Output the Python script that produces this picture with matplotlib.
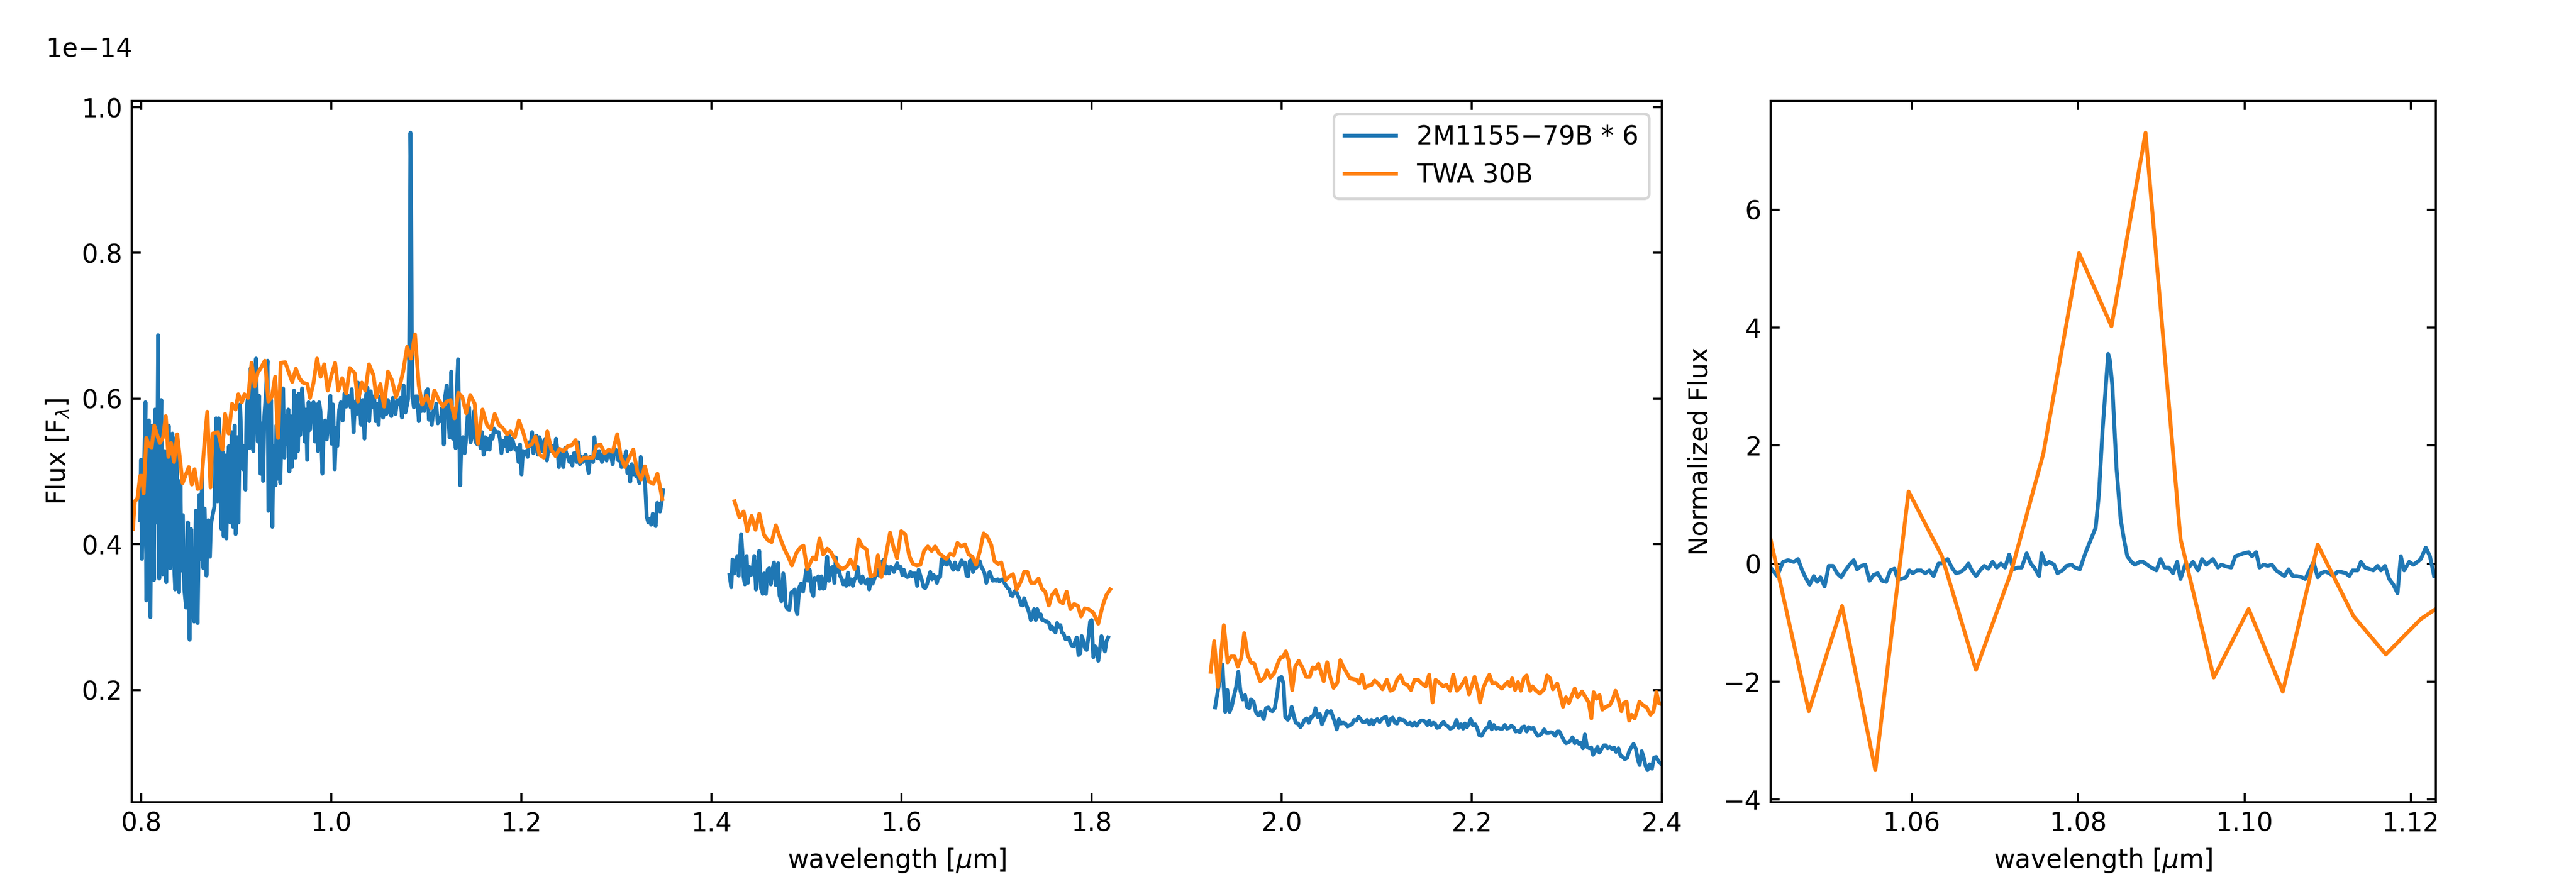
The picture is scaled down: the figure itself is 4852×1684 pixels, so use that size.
import numpy as np
import matplotlib
matplotlib.use("Agg")
import matplotlib.pyplot as plt

# ---------------- main panel data (flux in units of 1e-14) ----------------
blue_w1 = [0.7987, 0.7996, 0.8005, 0.8024, 0.8043, 0.8052, 0.8065, 0.8080, 0.8095, 0.8108,
           0.8117, 0.8132, 0.8145, 0.8164, 0.8177, 0.8188, 0.8201, 0.8210, 0.8225, 0.8238,
           0.8247, 0.8262, 0.8275, 0.8288, 0.8303, 0.8318, 0.8326, 0.8337, 0.8356, 0.8369,
           0.8382, 0.8397, 0.8411, 0.8424, 0.8437, 0.8452, 0.8471, 0.8490, 0.8508, 0.8523,
           0.8536, 0.8555, 0.8573, 0.8592, 0.8611, 0.8624, 0.8639, 0.8653, 0.8666, 0.8685,
           0.8704, 0.8722, 0.8732, 0.8750, 0.8769, 0.8787, 0.8802, 0.8815, 0.8828, 0.8843,
           0.8853, 0.8866, 0.8881, 0.8895, 0.8909, 0.8922, 0.8936, 0.8951, 0.8964, 0.8983,
           0.8992, 0.9011, 0.9022, 0.9039, 0.9058, 0.9070, 0.9085, 0.9095, 0.9108, 0.9123,
           0.9138, 0.9151, 0.9164, 0.9179, 0.9194, 0.9207, 0.9225, 0.9238, 0.9253, 0.9268,
           0.9281, 0.9294, 0.9309, 0.9328, 0.9337, 0.9352, 0.9365, 0.9378, 0.9393, 0.9411,
           0.9421, 0.9436, 0.9449, 0.9462, 0.9477, 0.9492, 0.9505, 0.9518, 0.9533, 0.9547,
           0.9557, 0.9570, 0.9585, 0.9598, 0.9607, 0.9622, 0.9635, 0.9648, 0.9659, 0.9672,
           0.9691, 0.9709, 0.9719, 0.9734, 0.9745, 0.9760, 0.9774, 0.9793, 0.9812, 0.9827,
           0.9840, 0.9858, 0.9871, 0.9886, 0.9905, 0.9920, 0.9933, 0.9951, 0.9970, 0.9989,
           1.0002, 1.0017, 1.0035, 1.0050, 1.0063, 1.0082, 1.0100, 1.0119, 1.0138, 1.0156,
           1.0175, 1.0193,
           1.0203, 1.0214, 1.0233, 1.0250, 1.0266, 1.0280, 1.0297, 1.0313, 1.0332, 1.0348,
           1.0363, 1.0379, 1.0398, 1.0414, 1.0431, 1.0450, 1.0466, 1.0480, 1.0497, 1.0513,
           1.0527, 1.0544, 1.0562, 1.0579, 1.0595, 1.0614, 1.0631, 1.0645, 1.0661, 1.0675,
           1.0692, 1.0708, 1.0727, 1.0743, 1.0760, 1.0779, 1.0795,
           1.0808, 1.0818, 1.0826, 1.0832, 1.0838, 1.0846,
           1.0854, 1.0868, 1.0885, 1.0903, 1.0920, 1.0932, 1.0948, 1.0962, 1.0979, 1.0995,
           1.1014, 1.1026, 1.1042, 1.1056, 1.1073, 1.1089, 1.1103, 1.1120, 1.1136, 1.1150,
           1.1167, 1.1183, 1.1197, 1.1214, 1.1230, 1.1244, 1.1261, 1.1277, 1.1291, 1.1308,
           1.1320, 1.1334, 1.1343, 1.1355, 1.1367, 1.1385, 1.1402, 1.1418, 1.1432, 1.1449,
           1.1465, 1.1484, 1.1503, 1.1520, 1.1538, 1.1555, 1.1571, 1.1585, 1.1602, 1.1618,
           1.1632, 1.1649, 1.1665, 1.1679, 1.1696, 1.1712, 1.1729, 1.1743, 1.1759, 1.1773,
           1.1790, 1.1806, 1.1823, 1.1839, 1.1853, 1.1870, 1.1886, 1.1903, 1.1919, 1.1936,
           1.1952, 1.1969, 1.1985, 1.2001, 1.2016, 1.2032, 1.2049, 1.2065, 1.2079, 1.2096,
           1.2112, 1.2126, 1.2143, 1.2159, 1.2173, 1.2190, 1.2206, 1.2220, 1.2237, 1.2253,
           1.2267, 1.2284, 1.2300, 1.2314, 1.2331, 1.2347, 1.2364, 1.2378, 1.2394, 1.2411,
           1.2425, 1.2441, 1.2458, 1.2472, 1.2488, 1.2505, 1.2519, 1.2535, 1.2552, 1.2566,
           1.2582, 1.2599, 1.2615, 1.2629, 1.2646, 1.2660, 1.2676, 1.2690, 1.2707, 1.2723,
           1.2737, 1.2754, 1.2768, 1.2785, 1.2801, 1.2818, 1.2832, 1.2848, 1.2865, 1.2879,
           1.2895, 1.2912, 1.2926, 1.2942, 1.2959, 1.2973, 1.2989, 1.3006, 1.3020, 1.3036,
           1.3053, 1.3067, 1.3083, 1.3100, 1.3114, 1.3130, 1.3144, 1.3161, 1.3177, 1.3194,
           1.3208, 1.3224, 1.3241, 1.3255, 1.3271, 1.3288, 1.3302, 1.3318, 1.3335, 1.3349,
           1.3365, 1.3382, 1.3396, 1.3412, 1.3429, 1.3443, 1.3459, 1.3476, 1.3490]
blue_f1 = [0.433, 0.516, 0.380, 0.471, 0.595, 0.323, 0.503, 0.570, 0.300, 0.484,
           0.563, 0.351, 0.585, 0.430, 0.687, 0.353, 0.535, 0.598, 0.359, 0.503,
           0.528, 0.348, 0.456, 0.563, 0.367, 0.471, 0.552, 0.392, 0.338, 0.547,
           0.440, 0.334, 0.487, 0.364, 0.440, 0.338, 0.313, 0.430, 0.269, 0.421,
           0.319, 0.294, 0.446, 0.292, 0.468, 0.380, 0.494, 0.367, 0.449, 0.357,
           0.433, 0.383, 0.427, 0.440, 0.452, 0.573, 0.459, 0.573, 0.503, 0.421,
           0.528, 0.411, 0.522, 0.408, 0.516, 0.535, 0.430, 0.554, 0.424, 0.563,
           0.414, 0.547, 0.430, 0.592, 0.525, 0.503, 0.535, 0.475, 0.585, 0.604,
           0.532, 0.642, 0.585, 0.528, 0.630, 0.655, 0.541, 0.604, 0.497, 0.566,
           0.487, 0.576, 0.604, 0.652, 0.446, 0.516, 0.598, 0.424, 0.535, 0.481,
           0.563, 0.490, 0.573, 0.484, 0.560, 0.614, 0.519, 0.576, 0.538, 0.585,
           0.500, 0.576, 0.506, 0.538, 0.611, 0.519, 0.604, 0.528, 0.607, 0.550,
           0.614, 0.576, 0.541, 0.585, 0.516, 0.595, 0.557, 0.592, 0.595, 0.541,
           0.592, 0.528, 0.595, 0.582, 0.497, 0.560, 0.570, 0.544, 0.566, 0.604,
           0.538, 0.592, 0.503, 0.560, 0.535, 0.585, 0.595, 0.570, 0.607, 0.589,
           0.604, 0.592,
           0.588, 0.613, 0.554, 0.596, 0.579, 0.622, 0.591, 0.564, 0.598, 0.545,
           0.603, 0.615, 0.569, 0.610, 0.588, 0.603, 0.569, 0.593, 0.564, 0.603,
           0.583, 0.574, 0.593, 0.579, 0.598, 0.583, 0.576, 0.601, 0.583, 0.579,
           0.598, 0.593, 0.601, 0.574, 0.618, 0.581, 0.591,
           0.600, 0.650, 0.780, 0.965, 0.900, 0.700,
           0.603, 0.588, 0.603, 0.603, 0.569, 0.591, 0.583, 0.593, 0.583, 0.610,
           0.613, 0.571, 0.579, 0.564, 0.583, 0.581, 0.593, 0.566, 0.574, 0.569,
           0.588, 0.537, 0.603, 0.618, 0.574, 0.547, 0.637, 0.545, 0.574, 0.532,
           0.613, 0.654, 0.569, 0.481, 0.537, 0.547, 0.525, 0.545, 0.574, 0.588,
           0.540, 0.549, 0.583, 0.540, 0.537, 0.545, 0.532, 0.554, 0.523, 0.547,
           0.530, 0.545, 0.530, 0.549, 0.545, 0.559, 0.554, 0.554, 0.554, 0.545,
           0.525, 0.542, 0.535, 0.547, 0.528, 0.549, 0.530, 0.545, 0.537, 0.530,
           0.532, 0.513, 0.537, 0.496, 0.528, 0.523, 0.528, 0.520, 0.540, 0.535,
           0.554, 0.525, 0.545, 0.549, 0.523, 0.547, 0.540, 0.528, 0.540, 0.545,
           0.515, 0.530, 0.535, 0.528, 0.535, 0.528, 0.545, 0.530, 0.506, 0.525,
           0.520, 0.506, 0.532, 0.525, 0.520, 0.513, 0.520, 0.508, 0.525, 0.525,
           0.513, 0.540, 0.510, 0.520, 0.513, 0.520, 0.523, 0.510, 0.498, 0.520,
           0.515, 0.513, 0.547, 0.520, 0.518, 0.528, 0.520, 0.513, 0.525, 0.523,
           0.515, 0.528, 0.520, 0.523, 0.510, 0.523, 0.530, 0.528, 0.515, 0.520,
           0.506, 0.520, 0.513, 0.528, 0.498, 0.506, 0.486, 0.510, 0.496, 0.508,
           0.493, 0.498, 0.484, 0.520, 0.493, 0.496, 0.481, 0.438, 0.430, 0.435,
           0.427, 0.442, 0.435, 0.425, 0.457, 0.455, 0.445, 0.459, 0.474]

blue_w2 = [1.4190, 1.4208, 1.4221, 1.4240, 1.4255, 1.4273, 1.4286, 1.4299, 1.4312, 1.4325,
           1.4338, 1.4351, 1.4370, 1.4383, 1.4398, 1.4416, 1.4435, 1.4450, 1.4468, 1.4487,
           1.4502, 1.4520, 1.4539, 1.4554, 1.4572, 1.4591, 1.4606, 1.4624, 1.4643, 1.4658,
           1.4676, 1.4702, 1.4715, 1.4736, 1.4755, 1.4767, 1.4780, 1.4799, 1.4819, 1.4840,
           1.4858, 1.4877, 1.4890, 1.4903, 1.4924, 1.4942, 1.4963, 1.4981, 1.4996, 1.5015,
           1.5033, 1.5054, 1.5072, 1.5085, 1.5106, 1.5124, 1.5139, 1.5158, 1.5176, 1.5191,
           1.5204, 1.5217, 1.5236, 1.5256, 1.5275, 1.5293, 1.5308, 1.5321, 1.5340, 1.5353,
           1.5371, 1.5386, 1.5402, 1.5418, 1.5436, 1.5451, 1.5470, 1.5488, 1.5504, 1.5522,
           1.5537, 1.5556, 1.5574, 1.5589, 1.5605, 1.5626, 1.5644, 1.5660, 1.5678, 1.5696,
           1.5712, 1.5730, 1.5748, 1.5764, 1.5782, 1.5800, 1.5816, 1.5834, 1.5849, 1.5868,
           1.5886, 1.5904, 1.5920, 1.5938, 1.5954, 1.5972, 1.5990, 1.6008, 1.6024, 1.6042,
           1.6060, 1.6076, 1.6094, 1.6112, 1.6128, 1.6146, 1.6164, 1.6180, 1.6198, 1.6216,
           1.6232, 1.6250, 1.6268, 1.6286, 1.6302, 1.6320, 1.6336, 1.6354, 1.6372, 1.6388,
           1.6406, 1.6422, 1.6440, 1.6458, 1.6476, 1.6492, 1.6510, 1.6528, 1.6544, 1.6562,
           1.6580, 1.6596, 1.6614, 1.6632, 1.6648, 1.6666, 1.6684, 1.6700, 1.6718, 1.6736,
           1.6752, 1.6770, 1.6788, 1.6804, 1.6822, 1.6840, 1.6858, 1.6874, 1.6892, 1.6908,
           1.6926, 1.6944, 1.6960, 1.6978, 1.6996, 1.7012, 1.7030, 1.7048, 1.7064, 1.7082,
           1.7100, 1.7116, 1.7134, 1.7152, 1.7168, 1.7186, 1.7204, 1.7220, 1.7238, 1.7256,
           1.7272, 1.7290, 1.7308, 1.7324, 1.7342, 1.7360, 1.7376, 1.7394, 1.7412, 1.7428,
           1.7446, 1.7464, 1.7480, 1.7498, 1.7516, 1.7532, 1.7550, 1.7568, 1.7584, 1.7602,
           1.7620, 1.7636, 1.7654, 1.7672, 1.7688, 1.7706, 1.7724, 1.7740, 1.7758, 1.7776,
           1.7792, 1.7810, 1.7828, 1.7844, 1.7862, 1.7880, 1.7896, 1.7914, 1.7932, 1.7948,
           1.7966, 1.7984, 1.8000, 1.8018, 1.8036, 1.8052, 1.8070, 1.8088, 1.8104, 1.8122,
           1.8140, 1.8156, 1.8174]
blue_f2 = [0.358, 0.341, 0.379, 0.360, 0.377, 0.384, 0.357, 0.386, 0.414, 0.389,
           0.355, 0.345, 0.384, 0.347, 0.369, 0.358, 0.369, 0.384, 0.338, 0.369,
           0.391, 0.340, 0.332, 0.360, 0.332, 0.365, 0.367, 0.345, 0.367, 0.375,
           0.344, 0.374, 0.330, 0.322, 0.360, 0.350, 0.316, 0.311, 0.310, 0.334,
           0.335, 0.338, 0.310, 0.304, 0.341, 0.346, 0.335, 0.350, 0.365, 0.350,
           0.365, 0.335, 0.329, 0.354, 0.352, 0.356, 0.339, 0.356, 0.339, 0.340,
           0.358, 0.383, 0.350, 0.367, 0.369, 0.347, 0.382, 0.362, 0.367, 0.357,
           0.352, 0.345, 0.350, 0.343, 0.361, 0.345, 0.352, 0.343, 0.352, 0.355,
           0.369, 0.352, 0.347, 0.356, 0.350, 0.346, 0.352, 0.338, 0.352, 0.346,
           0.352, 0.358, 0.365, 0.357, 0.365, 0.377, 0.379, 0.360, 0.369, 0.360,
           0.369, 0.367, 0.362, 0.369, 0.374, 0.367, 0.369, 0.358, 0.365, 0.357,
           0.355, 0.356, 0.362, 0.356, 0.360, 0.360, 0.343, 0.365, 0.357, 0.350,
           0.341, 0.340, 0.345, 0.355, 0.362, 0.352, 0.358, 0.355, 0.347, 0.356,
           0.355, 0.380, 0.373, 0.377, 0.372, 0.379, 0.374, 0.369, 0.365, 0.375,
           0.367, 0.365, 0.372, 0.378, 0.372, 0.375, 0.357, 0.356, 0.377, 0.379,
           0.362, 0.369, 0.368, 0.374, 0.377, 0.369, 0.365, 0.360, 0.347, 0.354,
           0.362, 0.356, 0.350, 0.351, 0.350, 0.352, 0.349, 0.351, 0.352, 0.347,
           0.343, 0.340, 0.338, 0.330, 0.329, 0.335, 0.337, 0.330, 0.326, 0.317,
           0.316, 0.326, 0.318, 0.313, 0.306, 0.296, 0.301, 0.311, 0.296, 0.311,
           0.301, 0.304, 0.296, 0.296, 0.294, 0.294, 0.292, 0.284, 0.287, 0.282,
           0.279, 0.292, 0.287, 0.289, 0.279, 0.277, 0.270, 0.270, 0.272, 0.265,
           0.261, 0.260, 0.267, 0.272, 0.248, 0.250, 0.274, 0.267, 0.257, 0.255,
           0.272, 0.294, 0.296, 0.245, 0.260, 0.257, 0.240, 0.257, 0.274, 0.262,
           0.253, 0.267, 0.272]

blue_w3 = [1.9299, 1.9376, 1.9406, 1.9428, 1.9452, 1.9474, 1.9498, 1.9520, 1.9544, 1.9566,
           1.9590, 1.9615, 1.9636, 1.9658, 1.9676, 1.9704, 1.9728, 1.9753, 1.9780, 1.9811,
           1.9835, 1.9860, 1.9881, 1.9903, 1.9927, 1.9952, 1.9973, 1.9998, 2.0019, 2.0038,
           2.0065, 2.0087, 2.0105, 2.0127, 2.0148, 2.0173, 2.0197, 2.0219, 2.0240, 2.0265,
           2.0286, 2.0311, 2.0332, 2.0356, 2.0378, 2.0402, 2.0424, 2.0448, 2.0479, 2.0500,
           2.0519, 2.0540, 2.0562, 2.0580, 2.0602, 2.0623, 2.0648, 2.0669, 2.0694, 2.0718,
           2.0740, 2.0761, 2.0785, 2.0810, 2.0831, 2.0853, 2.0877, 2.0899, 2.0923, 2.0945,
           2.0963, 2.0985, 2.1006, 2.1031, 2.1055, 2.1077, 2.1098, 2.1123, 2.1147, 2.1169,
           2.1193, 2.1214, 2.1239, 2.1260, 2.1282, 2.1307, 2.1328, 2.1352, 2.1374, 2.1398,
           2.1420, 2.1441, 2.1466, 2.1490, 2.1512, 2.1533, 2.1552, 2.1573, 2.1595, 2.1613,
           2.1635, 2.1659, 2.1684, 2.1705, 2.1726, 2.1751, 2.1772, 2.1797, 2.1818, 2.1840,
           2.1864, 2.1889, 2.1910, 2.1929, 2.1950, 2.1971, 2.1990, 2.2011, 2.2036, 2.2057,
           2.2079, 2.2103, 2.2125, 2.2149, 2.2171, 2.2189, 2.2210, 2.2232, 2.2256, 2.2278,
           2.2299, 2.2324, 2.2348, 2.2370, 2.2394, 2.2416, 2.2440, 2.2462, 2.2486, 2.2508,
           2.2532, 2.2554, 2.2578, 2.2600, 2.2624, 2.2649, 2.2670, 2.2695, 2.2716, 2.2741,
           2.2762, 2.2787, 2.2808, 2.2833, 2.2854, 2.2879, 2.2900, 2.2922, 2.2946, 2.2968,
           2.2992, 2.3014, 2.3038, 2.3060, 2.3084, 2.3106, 2.3130, 2.3151, 2.3170, 2.3191,
           2.3213, 2.3237, 2.3259, 2.3277, 2.3299, 2.3323, 2.3344, 2.3366, 2.3390, 2.3412,
           2.3430, 2.3452, 2.3476, 2.3498, 2.3519, 2.3544, 2.3565, 2.3590, 2.3611, 2.3636,
           2.3657, 2.3682, 2.3703, 2.3728, 2.3749, 2.3767, 2.3789, 2.3810, 2.3829, 2.3850,
           2.3872, 2.3896, 2.3918, 2.3942, 2.3964, 2.3988]
blue_f3 = [0.176, 0.235, 0.170, 0.200, 0.170, 0.177, 0.192, 0.204, 0.225, 0.199,
           0.187, 0.193, 0.177, 0.175, 0.187, 0.184, 0.170, 0.165, 0.170, 0.160,
           0.175, 0.176, 0.172, 0.171, 0.175, 0.194, 0.216, 0.218, 0.209, 0.163,
           0.159, 0.165, 0.177, 0.165, 0.155, 0.154, 0.149, 0.153, 0.159, 0.161,
           0.155, 0.163, 0.164, 0.175, 0.163, 0.167, 0.153, 0.160, 0.171, 0.169,
           0.171, 0.163, 0.155, 0.146, 0.160, 0.154, 0.155, 0.154, 0.150, 0.152,
           0.153, 0.159, 0.158, 0.163, 0.160, 0.156, 0.156, 0.159, 0.153, 0.159,
           0.153, 0.158, 0.160, 0.156, 0.160, 0.162, 0.163, 0.152, 0.160, 0.162,
           0.155, 0.154, 0.161, 0.159, 0.159, 0.155, 0.153, 0.155, 0.151, 0.155,
           0.151, 0.155, 0.158, 0.158, 0.156, 0.152, 0.158, 0.152, 0.155, 0.154,
           0.148, 0.149, 0.154, 0.156, 0.152, 0.150, 0.147, 0.148, 0.151, 0.159,
           0.148, 0.153, 0.147, 0.154, 0.149, 0.154, 0.160, 0.152, 0.153, 0.148,
           0.138, 0.137, 0.142, 0.147, 0.149, 0.156, 0.146, 0.152, 0.147, 0.148,
           0.147, 0.147, 0.152, 0.147, 0.148, 0.151, 0.149, 0.143, 0.144, 0.142,
           0.149, 0.150, 0.143, 0.149, 0.147, 0.148, 0.142, 0.137, 0.138, 0.141,
           0.146, 0.141, 0.141, 0.142, 0.141, 0.137, 0.143, 0.143, 0.137, 0.131,
           0.127, 0.128, 0.130, 0.135, 0.127, 0.130, 0.126, 0.128, 0.120, 0.139,
           0.122, 0.120, 0.121, 0.111, 0.116, 0.122, 0.114, 0.119, 0.124, 0.124,
           0.120, 0.122, 0.119, 0.121, 0.115, 0.120, 0.110, 0.108, 0.105, 0.107,
           0.116, 0.122, 0.126, 0.119, 0.104, 0.097, 0.116, 0.107, 0.096, 0.090,
           0.098, 0.092, 0.107, 0.108, 0.102, 0.099]

orange_w1 = [0.7912, 0.7931, 0.7959, 0.7987, 0.8005, 0.8024, 0.8052, 0.8080, 0.8108, 0.8136,
             0.8164, 0.8195, 0.8229, 0.8257, 0.8285, 0.8313, 0.8344, 0.8378, 0.8434, 0.8499,
             0.8531, 0.8560, 0.8592, 0.8629, 0.8661, 0.8694, 0.8728, 0.8750, 0.8806, 0.8853,
             0.8881, 0.8918, 0.8955, 0.8992, 0.9020, 0.9058, 0.9085, 0.9123, 0.9160, 0.9194,
             0.9225, 0.9253, 0.9300, 0.9337, 0.9374, 0.9408, 0.9439, 0.9467, 0.9514, 0.9551,
             0.9588, 0.9626, 0.9663, 0.9700, 0.9747, 0.9775, 0.9812, 0.9849, 0.9886, 0.9924,
             0.9961, 0.9998, 1.0039, 1.0073, 1.0114, 1.0156, 1.0193,
             1.0245, 1.0280, 1.0320, 1.0356, 1.0396, 1.0443, 1.0473, 1.0515, 1.0555, 1.0595,
             1.0638, 1.0680, 1.0720, 1.0755, 1.0797, 1.0837, 1.0880, 1.0920, 1.0955, 1.1002,
             1.1049, 1.1084, 1.1131, 1.1174, 1.1214, 1.1254, 1.1296, 1.1336, 1.1378, 1.1418,
             1.1461, 1.1508, 1.1543, 1.1590, 1.1637, 1.1677, 1.1719, 1.1762, 1.1802, 1.1849,
             1.1884, 1.1931, 1.1973, 1.2020, 1.2060, 1.2107, 1.2147, 1.2190, 1.2237, 1.2272,
             1.2314, 1.2359, 1.2401, 1.2443, 1.2490, 1.2530, 1.2570, 1.2617, 1.2660, 1.2707,
             1.2754, 1.2789, 1.2831, 1.2876, 1.2918, 1.2960, 1.3008, 1.3047, 1.3087, 1.3134,
             1.3177, 1.3219, 1.3259, 1.3299, 1.3342, 1.3389, 1.3431, 1.3483]
orange_f1 = [0.421, 0.459, 0.463, 0.494, 0.494, 0.470, 0.546, 0.535, 0.533, 0.563,
             0.551, 0.539, 0.547, 0.576, 0.520, 0.539, 0.513, 0.551, 0.484, 0.506,
             0.482, 0.503, 0.476, 0.478, 0.535, 0.582, 0.478, 0.552, 0.554, 0.530,
             0.579, 0.552, 0.593, 0.585, 0.606, 0.595, 0.606, 0.601, 0.649, 0.617,
             0.636, 0.641, 0.652, 0.596, 0.603, 0.630, 0.546, 0.649, 0.650, 0.636,
             0.623, 0.641, 0.628, 0.622, 0.620, 0.601, 0.622, 0.655, 0.630, 0.647,
             0.611, 0.631, 0.649, 0.611, 0.628, 0.607, 0.642,
             0.635, 0.596, 0.622, 0.611, 0.647, 0.632, 0.602, 0.620, 0.589, 0.637,
             0.625, 0.602, 0.618, 0.637, 0.671, 0.655, 0.688, 0.618, 0.592, 0.604,
             0.587, 0.611, 0.598, 0.589, 0.596, 0.598, 0.573, 0.608, 0.602, 0.580,
             0.605, 0.593, 0.538, 0.585, 0.564, 0.558, 0.579, 0.564, 0.560, 0.551,
             0.555, 0.547, 0.570, 0.553, 0.534, 0.537, 0.548, 0.523, 0.519, 0.555,
             0.530, 0.521, 0.531, 0.528, 0.535, 0.536, 0.543, 0.513, 0.519, 0.519,
             0.519, 0.535, 0.537, 0.525, 0.530, 0.527, 0.551, 0.520, 0.506, 0.519,
             0.530, 0.500, 0.489, 0.507, 0.486, 0.483, 0.497, 0.462]

orange_w2 = [1.4242, 1.4294, 1.4338, 1.4377, 1.4422, 1.4463, 1.4503, 1.4552, 1.4591, 1.4632,
             1.4677, 1.4724, 1.4768, 1.4807, 1.4846, 1.4893, 1.4937, 1.4968, 1.5007, 1.5067,
             1.5098, 1.5137, 1.5176, 1.5218, 1.5257, 1.5293, 1.5335, 1.5381, 1.5426, 1.5462,
             1.5506, 1.5548, 1.5587, 1.5631, 1.5673, 1.5717, 1.5751, 1.5788, 1.5834, 1.5879,
             1.5913, 1.5952, 1.5996, 1.6037, 1.6081, 1.6120, 1.6160, 1.6198, 1.6237, 1.6276,
             1.6316, 1.6354, 1.6393, 1.6432, 1.6471, 1.6510, 1.6549, 1.6588, 1.6628, 1.6667,
             1.6706, 1.6745, 1.6784, 1.6823, 1.6864, 1.6900, 1.6944, 1.6978, 1.7017, 1.7050,
             1.7095, 1.7134, 1.7173, 1.7212, 1.7259, 1.7290, 1.7324, 1.7363, 1.7402, 1.7441,
             1.7478, 1.7511, 1.7550, 1.7581, 1.7623, 1.7662, 1.7698, 1.7737, 1.7777, 1.7815,
             1.7854, 1.7889, 1.7928, 1.7967, 1.8018, 1.8070, 1.8117, 1.8154, 1.8195]
orange_f2 = [0.459, 0.437, 0.445, 0.418, 0.439, 0.420, 0.442, 0.413, 0.406, 0.403,
             0.426, 0.408, 0.393, 0.383, 0.371, 0.388, 0.396, 0.398, 0.366, 0.382,
             0.379, 0.408, 0.386, 0.394, 0.389, 0.380, 0.370, 0.366, 0.370, 0.379,
             0.366, 0.407, 0.397, 0.393, 0.356, 0.358, 0.385, 0.355, 0.384, 0.416,
             0.397, 0.381, 0.418, 0.414, 0.384, 0.373, 0.371, 0.372, 0.391, 0.397,
             0.391, 0.397, 0.388, 0.384, 0.380, 0.387, 0.385, 0.402, 0.397, 0.400,
             0.386, 0.383, 0.372, 0.390, 0.415, 0.411, 0.399, 0.377, 0.373, 0.375,
             0.351, 0.356, 0.359, 0.338, 0.350, 0.362, 0.362, 0.347, 0.347, 0.353,
             0.339, 0.335, 0.316, 0.330, 0.337, 0.322, 0.319, 0.335, 0.311, 0.318,
             0.316, 0.301, 0.312, 0.311, 0.306, 0.291, 0.316, 0.330, 0.338]

orange_w3 = [1.9253, 1.9290, 1.9330, 1.9391, 1.9431, 1.9468, 1.9504, 1.9538, 1.9575, 1.9606,
             1.9642, 1.9676, 1.9713, 1.9743, 1.9774, 1.9820, 1.9845, 1.9881, 1.9921, 1.9958,
             1.9989, 2.0013, 2.0044, 2.0074, 2.0111, 2.0142, 2.0179, 2.0218, 2.0258, 2.0295,
             2.0326, 2.0356, 2.0387, 2.0442, 2.0479, 2.0510, 2.0546, 2.0586, 2.0617, 2.0648,
             2.0687, 2.0718, 2.0755, 2.0785, 2.0816, 2.0847, 2.0877, 2.0914, 2.0945, 2.0978,
             2.1015, 2.1061, 2.1107, 2.1144, 2.1178, 2.1214, 2.1251, 2.1285, 2.1322, 2.1361,
             2.1398, 2.1435, 2.1475, 2.1515, 2.1552, 2.1588, 2.1619, 2.1659, 2.1699, 2.1736,
             2.1772, 2.1806, 2.1843, 2.1874, 2.1904, 2.1935, 2.1972, 2.2002, 2.2030, 2.2067,
             2.2088, 2.2125, 2.2159, 2.2186, 2.2217, 2.2250, 2.2287, 2.2318, 2.2349, 2.2379,
             2.2404, 2.2425, 2.2456, 2.2487, 2.2517, 2.2548, 2.2578, 2.2615, 2.2640, 2.2670,
             2.2716, 2.2762, 2.2793, 2.2824, 2.2854, 2.2900, 2.2931, 2.2961, 2.2992, 2.3023,
             2.3053, 2.3084, 2.3115, 2.3161, 2.3198, 2.3231, 2.3259, 2.3283, 2.3314, 2.3345,
             2.3375, 2.3412, 2.3452, 2.3483, 2.3513, 2.3544, 2.3575, 2.3599, 2.3630, 2.3657,
             2.3682, 2.3713, 2.3734, 2.3765, 2.3805, 2.3842, 2.3882, 2.3913, 2.3944, 2.3968,
             2.3990]
orange_f3 = [0.225, 0.267, 0.204, 0.289, 0.238, 0.246, 0.246, 0.232, 0.244, 0.278,
             0.248, 0.238, 0.236, 0.223, 0.212, 0.217, 0.227, 0.217, 0.223, 0.236,
             0.245, 0.245, 0.253, 0.240, 0.200, 0.232, 0.240, 0.231, 0.218, 0.218,
             0.231, 0.229, 0.236, 0.212, 0.238, 0.218, 0.203, 0.210, 0.241, 0.232,
             0.223, 0.216, 0.215, 0.214, 0.209, 0.221, 0.203, 0.206, 0.207, 0.213,
             0.209, 0.201, 0.214, 0.199, 0.201, 0.214, 0.220, 0.209, 0.207, 0.200,
             0.214, 0.214, 0.209, 0.205, 0.221, 0.183, 0.214, 0.210, 0.205, 0.207,
             0.199, 0.221, 0.199, 0.203, 0.209, 0.216, 0.194, 0.206, 0.218, 0.199,
             0.183, 0.204, 0.214, 0.221, 0.209, 0.210, 0.205, 0.202, 0.207, 0.211,
             0.205, 0.216, 0.200, 0.211, 0.199, 0.216, 0.220, 0.199, 0.205, 0.200,
             0.195, 0.201, 0.220, 0.216, 0.201, 0.209, 0.194, 0.177, 0.190, 0.182,
             0.192, 0.202, 0.190, 0.198, 0.190, 0.183, 0.161, 0.197, 0.188, 0.193,
             0.173, 0.177, 0.179, 0.187, 0.199, 0.187, 0.171, 0.182, 0.184, 0.158,
             0.166, 0.161, 0.169, 0.184, 0.179, 0.176, 0.166, 0.171, 0.197, 0.182,
             0.181]

# ---------------- zoom panel data (normalized flux) ----------------
zoom_blue_w = [1.0430, 1.0438, 1.0445, 1.0451, 1.0458, 1.0463, 1.0468, 1.0473, 1.0477, 1.0482,
               1.0486, 1.0490, 1.0495, 1.0500, 1.0505, 1.0510, 1.0515, 1.0520, 1.0525, 1.0530,
               1.0534, 1.0539, 1.0544, 1.0549, 1.0554, 1.0559, 1.0564, 1.0569, 1.0574, 1.0579,
               1.0583, 1.0587, 1.0593, 1.0597, 1.0601, 1.0606, 1.0611, 1.0616, 1.0621, 1.0626,
               1.0632, 1.0636, 1.0643, 1.0648, 1.0653, 1.0658, 1.0663, 1.0668, 1.0672, 1.0677,
               1.0682, 1.0687, 1.0692, 1.0697, 1.0702, 1.0707, 1.0712, 1.0717, 1.0722, 1.0727,
               1.0732, 1.0738, 1.0743, 1.0747, 1.0753, 1.0756, 1.0761, 1.0765, 1.0771, 1.0775,
               1.0781, 1.0786, 1.0792, 1.0796, 1.0802, 1.0808, 1.0814, 1.0821, 1.0825, 1.0829,
               1.0833, 1.0836, 1.0838, 1.0841, 1.0846, 1.0851, 1.0855, 1.0859, 1.0864, 1.0868,
               1.0874, 1.0878, 1.0883, 1.0888, 1.0894, 1.0899, 1.0904, 1.0909, 1.0914, 1.0919,
               1.0923, 1.0929, 1.0933, 1.0938, 1.0944, 1.0949, 1.0954, 1.0958, 1.0962, 1.0968,
               1.0972, 1.0978, 1.0984, 1.0989, 1.0995, 1.0999, 1.1005, 1.1009, 1.1014, 1.1018,
               1.1023, 1.1028, 1.1033, 1.1038, 1.1043, 1.1048, 1.1053, 1.1058, 1.1063, 1.1069,
               1.1073, 1.1078, 1.1083, 1.1088, 1.1092, 1.1097, 1.1102, 1.1107, 1.1112, 1.1117,
               1.1122, 1.1126, 1.1130, 1.1136, 1.1140, 1.1145, 1.1151, 1.1155, 1.1160, 1.1164,
               1.1169, 1.1174, 1.1179, 1.1184, 1.1188, 1.1192, 1.1198, 1.1203, 1.1208, 1.1212,
               1.1218, 1.1223, 1.1228]
zoom_blue_f = [-0.068, -0.212, 0.029, 0.058, 0.029, 0.077, -0.116, -0.261, -0.357, -0.212,
               -0.309, -0.232, -0.386, -0.039, -0.039, -0.164, -0.232, -0.116, -0.019, 0.058,
               -0.097, -0.039, -0.019, -0.290, -0.193, -0.164, -0.290, -0.309, -0.116, -0.087,
               -0.261, -0.261, -0.232, -0.116, -0.164, -0.116, -0.116, -0.164, -0.116, -0.212,
               0.000, 0.000, 0.077, -0.068, -0.164, -0.145, -0.097, 0.000, -0.116, -0.212,
               -0.116, -0.039, -0.087, 0.029, -0.068, 0.000, -0.068, 0.154, -0.097, -0.068,
               -0.068, 0.174, 0.000, -0.068, -0.212, 0.174, -0.019, 0.029, -0.019, -0.164,
               -0.116, -0.039, -0.019, -0.068, -0.097, 0.154, 0.367, 0.608, 1.187, 2.201,
               2.973, 3.552, 3.456, 3.021, 1.622, 0.753, 0.415, 0.125, 0.029, -0.019,
               0.029, 0.029, -0.019, -0.068, -0.116, 0.077, -0.068, -0.068, -0.164, 0.029,
               -0.261, 0.000, -0.068, 0.029, -0.116, 0.077, -0.019, 0.029, 0.077, -0.068,
               -0.019, -0.048, -0.068, 0.125, 0.154, 0.174, 0.193, 0.125, 0.193, -0.068,
               -0.019, -0.039, -0.019, -0.116, -0.164, -0.212, -0.097, -0.212, -0.212, -0.232,
               -0.261, -0.116, 0.029, -0.232, -0.164, -0.135, -0.164, -0.212, -0.135, -0.145,
               -0.164, -0.212, -0.116, -0.116, 0.029, -0.068, -0.097, -0.116, -0.039, -0.116,
               -0.039, -0.261, -0.357, -0.502, 0.125, -0.116, 0.029, -0.019, 0.029, 0.077,
               0.270, 0.125, -0.212]

zoom_orange_w = [1.0430, 1.0476, 1.0516, 1.0556, 1.0596, 1.0636, 1.0677, 1.0719, 1.0758,
                 1.0801, 1.0840, 1.0881, 1.0923, 1.0963, 1.1005, 1.1046, 1.1088, 1.1131,
                 1.1170, 1.1212, 1.1230]
zoom_orange_f = [0.41, -2.50, -0.72, -3.50, 1.22, 0.13, -1.80, -0.16, 1.86,
                 5.26, 4.02, 7.30, 0.42, -1.93, -0.77, -2.17, 0.32, -0.89,
                 -1.54, -0.94, -0.77]

# ---------------- labels / ticks ----------------
label_blue = "2M1155\u221279B * 6"
label_orange = "TWA 30B"
main_xticks = [0.8, 1.0, 1.2, 1.4, 1.6, 1.8, 2.0, 2.2, 2.4]
main_yticks = [0.2, 0.4, 0.6, 0.8, 1.0]
zoom_xticks = [1.06, 1.08, 1.10, 1.12]
zoom_yticks = [-4, -2, 0, 2, 4, 6]


def join(*segs):
    ws, fs = [], []
    for i, (w, f) in enumerate(segs):
        n = min(len(w), len(f))
        if i:
            ws.append(np.nan)
            fs.append(np.nan)
        ws.extend(w[:n])
        fs.extend(f[:n])
    return np.array(ws), np.array(fs)


bw, bf = join((blue_w1, blue_f1), (blue_w2, blue_f2), (blue_w3, blue_f3))
ow, of = join((orange_w1, orange_f1), (orange_w2, orange_f2), (orange_w3, orange_f3))

DPI = 350
fig = plt.figure(figsize=(4852 / DPI, 1684 / DPI), dpi=DPI)
ax1 = fig.add_axes([0.05118, 0.10291, 0.59392, 0.78426])
ax2 = fig.add_axes([0.68733, 0.10291, 0.25823, 0.78426])

ax1.plot(bw, bf, color="C0", lw=1.5, label=label_blue)
ax1.plot(ow, of, color="C1", lw=1.5, label=label_orange)
ax1.set_xlim(0.79, 2.4)
ax1.set_xticks(main_xticks)
ax1.set_yticks(main_yticks)
ax1.set_xlabel("wavelength [$\\mu$m]")
ax1.set_ylabel("Flux [F$_\\lambda$]")
ax1.legend(loc="upper right")

ax2.plot(zoom_blue_w, zoom_blue_f, color="C0", lw=1.5)
ax2.plot(zoom_orange_w, zoom_orange_f, color="C1", lw=1.5)
ax2.set_xlim(1.043, 1.123)
ax2.set_xticks(zoom_xticks)
ax2.set_yticks(zoom_yticks)
ax2.set_xlabel("wavelength [$\\mu$m]")
ax2.set_ylabel("Normalized Flux")

for ax in (ax1, ax2):
    ax.tick_params(direction="in", top=True, right=True, which="both")

fig.text(0.0179, 0.937, "1e\u221214", fontsize=10, ha="left", va="baseline")

fig.savefig("out.png", dpi=DPI)
